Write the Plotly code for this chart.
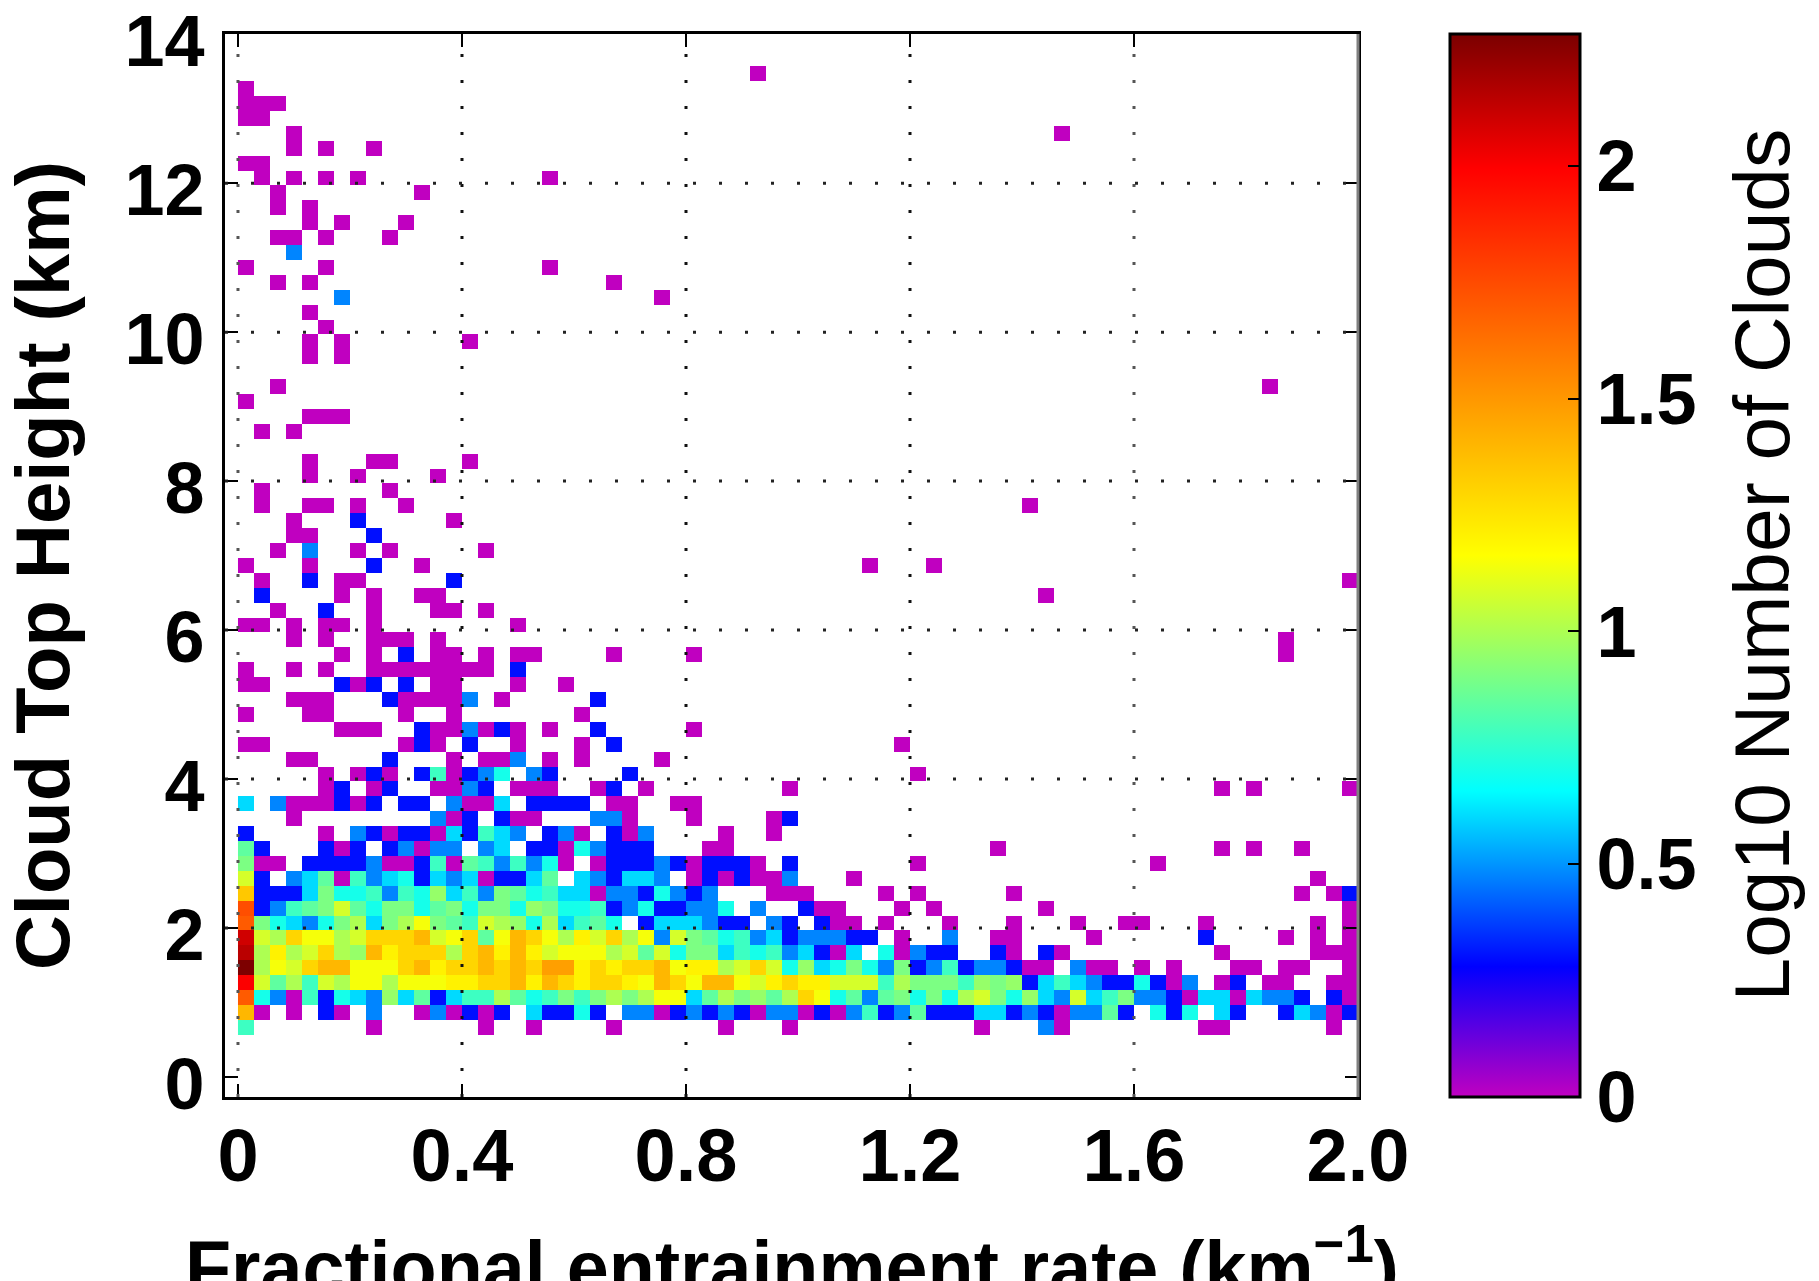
import math
import plotly.graph_objects as go

# counts per 0.2-km height bin: {column index: number of clouds}; r<k> covers the k-th height bin
r3 = {0:6,8:1,15:1,18:1,23:1,30:1,34:1,46:1,50:3,51:1,60:1,61:1,68:1}
r4 = {0:25,1:1,3:1,5:2,6:1,8:3,11:1,12:3,13:1,14:2,15:1,16:2,18:4,19:2,20:2,21:5,22:2,24:3,25:3,26:1,27:2,28:3,29:2,30:3,31:2,32:1,33:3,34:3,35:1,36:2,37:1,38:3,39:6,40:2,41:3,42:7,43:2,44:2,45:2,46:4,47:4,48:2,49:3,50:2,51:1,52:3,53:3,54:7,55:2,57:5,58:2,59:5,61:4,62:2,65:2,66:4,67:3,68:1,69:2}
r5 = {0:50,1:5,2:3,3:1,4:6,5:2,6:5,7:4,8:3,9:9,10:4,11:7,12:2,13:4,14:6,15:6,16:10,17:7,18:5,19:6,20:8,21:6,22:8,23:10,24:8,25:10,26:14,27:14,28:4,29:7,30:10,31:8,32:9,33:7,34:10,35:20,36:14,37:5,38:7,39:3,40:7,41:8,42:5,43:8,44:5,45:10,46:12,47:8,48:5,49:9,50:4,51:3,52:12,53:4,54:6,55:8,56:3,57:3,58:2,59:1,60:4,61:4,62:1,63:4,64:3,65:3,66:2,68:2,69:1}
r6 = {0:100,1:12,2:7,3:10,4:6,5:12,6:10,7:14,8:14,9:10,10:14,11:14,12:14,13:16,14:16,15:20,16:20,17:25,18:16,19:25,20:20,21:16,22:20,23:20,24:16,25:14,26:25,27:20,28:14,29:25,30:25,31:14,32:12,33:16,34:20,35:16,36:16,37:12,38:12,39:12,40:6,41:10,42:8,43:8,44:8,45:6,46:9,47:8,48:9,49:2,50:4,51:6,52:4,53:3,54:2,55:2,56:5,57:2,58:1,59:3,61:1,62:2,64:1,65:1,68:1,69:1}
r7 = {0:190,1:10,2:14,3:12,4:20,5:25,6:25,7:14,8:14,9:14,10:20,11:25,12:16,13:20,14:20,15:25,16:20,17:25,18:20,19:30,20:30,21:16,22:20,23:16,24:20,25:20,26:25,27:14,28:16,29:16,30:10,31:12,32:20,33:12,34:5,35:9,36:4,37:5,38:8,39:5,40:3,41:8,42:2,43:3,44:6,45:2,46:3,47:3,48:2,49:1,50:1,52:3,53:1,54:1,56:1,58:1,62:1,63:1,65:1,66:1,69:1}
r8 = {0:140,1:10,2:16,3:10,4:12,5:20,6:10,7:9,8:25,9:16,10:20,11:20,12:20,13:10,14:20,15:25,16:16,17:25,18:16,19:12,20:14,21:14,22:14,23:10,24:12,25:7,26:12,27:5,28:8,29:8,30:4,31:6,32:5,33:6,34:3,35:4,36:2,37:1,38:4,40:5,41:1,42:3,43:2,44:2,47:2,48:1,50:2,51:1,61:1,67:1,68:1,69:1}
r9 = {0:125,1:12,2:10,3:20,4:14,5:14,6:10,7:12,8:20,9:20,10:20,11:25,12:12,13:14,14:20,15:7,16:14,17:25,18:20,19:14,20:10,21:16,22:12,23:20,24:10,25:14,26:3,27:12,28:8,29:7,30:5,31:6,32:3,33:4,34:2,35:3,36:3,37:3,38:2,39:2,41:1,44:3,47:1,48:1,53:1,60:2,65:1,67:1,69:1}
r10 = {0:50,1:8,2:5,3:4,4:3,5:5,6:8,7:10,8:4,9:8,10:10,11:14,12:8,13:7,14:6,15:12,16:10,17:9,18:5,19:10,20:4,21:6,22:7,23:5,25:2,26:4,27:4,28:4,29:3,30:2,31:2,33:3,34:2,36:2,37:1,38:1,40:1,44:1,48:1,52:1,55:1,56:1,60:1,67:1,69:1}
r11 = {0:55,1:2,2:3,3:6,4:7,5:8,6:12,7:7,8:5,9:8,10:8,11:5,12:7,13:8,14:5,15:8,16:8,17:5,18:9,19:8,20:5,21:5,22:6,23:2,24:3,25:5,26:2,27:2,28:3,29:3,30:5,32:3,35:2,36:1,37:1,41:1,43:1,50:1,69:1}
r12 = {0:22,1:2,2:2,3:2,4:4,5:8,6:5,7:5,8:6,9:3,10:6,11:5,12:9,13:4,14:6,15:3,16:8,17:7,18:5,19:6,20:4,21:4,22:1,23:3,24:3,25:2,26:5,27:3,28:2,29:3,33:1,34:1,35:1,40:1,42:1,48:1,66:1,68:1,69:2}
r13 = {0:12,1:2,3:3,4:4,5:7,6:1,7:6,8:3,9:4,10:5,11:2,12:4,13:3,14:4,15:1,16:2,17:2,18:4,19:7,21:4,22:3,23:2,24:4,25:4,26:3,28:1,29:2,30:1,31:2,32:1,33:1,34:3,38:1,67:1}
r14 = {0:8,1:1,2:1,4:2,5:2,6:2,7:2,8:3,9:1,10:1,11:2,12:6,13:1,14:7,15:6,16:3,17:6,18:3,19:5,20:1,22:1,23:2,24:2,25:2,26:3,27:2,28:1,29:2,30:2,31:2,32:1,34:2,42:1,57:1}
r15 = {0:7,1:2,5:2,6:1,7:2,9:2,10:3,11:1,12:3,13:3,15:3,16:4,18:2,19:2,20:1,21:5,22:3,23:2,24:2,25:2,29:1,30:1,47:1,61:1,63:1,66:1}
r16 = {0:2,5:1,7:3,8:2,9:1,10:2,11:2,12:1,13:4,14:2,15:6,16:4,17:3,19:2,20:3,21:1,23:2,24:1,25:3,30:1,33:1}
r17 = {3:1,12:3,13:1,14:2,16:2,17:1,18:1,22:3,23:3,24:1,28:1,33:1,34:2}
r18 = {0:4,2:3,3:1,4:1,5:1,6:2,7:1,8:2,10:2,11:2,13:3,14:1,15:1,16:4,18:2,19:2,20:2,21:2,23:1,24:1,27:1,28:1}
r19 = {5:1,6:2,8:1,9:2,12:1,13:1,14:3,15:2,17:1,18:1,19:1,22:1,23:2,25:1,34:1,61:1,63:1,69:1}
r20 = {5:1,7:1,8:2,9:1,11:2,12:6,13:1,14:2,15:3,16:5,18:3,19:2,24:2,42:1}
r21 = {3:1,4:1,9:2,13:1,15:1,16:1,17:3,19:1,21:1,26:1}
r22 = {0:1,1:1,10:1,11:2,12:1,14:2,17:1,21:1,23:2,41:1}
r23 = {6:1,7:1,8:1,11:2,12:1,13:1,14:3,15:1,16:2,17:1,19:1,22:2,28:1}
r24 = {0:1,4:1,5:1,10:1,13:1,21:1}
r25 = {3:1,4:1,5:1,9:2,10:1,11:1,12:1,13:1,14:3,16:1,22:2}
r26 = {0:1,1:1,6:2,7:1,8:2,10:2,12:1,13:1,17:1,20:1}
r27 = {0:1,3:1,5:1,8:1,9:1,10:1,11:1,12:1,13:1,14:1,15:1,17:2}
r28 = {6:1,8:1,10:2,12:1,13:1,15:1,17:1,18:1,23:1,28:1,65:1}
r29 = {3:1,5:1,8:1,9:1,10:1,12:1,65:1}
r30 = {0:1,1:1,3:1,5:1,6:1,8:1,17:1}
r31 = {2:1,5:2,8:1,12:1,13:1,15:1}
r32 = {1:2,6:1,8:1,11:1,12:1,50:1}
r33 = {1:1,4:2,6:1,7:1,13:2,69:1}
r34 = {0:1,4:1,8:2,11:1,39:1,43:1}
r35 = {2:1,4:3,7:1,9:1,15:1}
r36 = {3:1,4:1,8:2}
r37 = {3:1,7:2,13:1}
r38 = {1:1,4:1,5:1,7:1,10:1,49:1}
r39 = {1:1,9:1}
r40 = {4:1,7:1,12:1}
r41 = {4:1,8:1,9:1,14:1}
r43 = {1:1,3:1}
r44 = {4:1,5:1,6:1}
r45 = {0:1}
r46 = {2:1,64:1}
r48 = {4:1,6:1}
r49 = {4:1,6:1,14:1}
r50 = {5:1}
r51 = {4:1}
r52 = {6:3,26:1}
r53 = {2:1,4:1,23:1}
r54 = {0:1,5:1,19:1}
r55 = {3:3}
r56 = {2:1,3:1,5:1,9:1}
r57 = {4:1,6:1,10:1}
r58 = {2:1,4:1}
r59 = {2:1,11:1}
r60 = {1:1,3:1,5:1,7:1,19:1}
r61 = {0:1,1:1}
r62 = {3:1,5:1,8:1}
r63 = {3:1,51:1}
r64 = {0:1,1:1}
r65 = {0:1,1:1,2:1}
r66 = {0:1}
r67 = {32:1}

x_ticks = [0, 0.4, 0.8, 1.2, 1.6, 2.0]
x_labels = ["0", "0.4", "0.8", "1.2", "1.6", "2.0"]
y_ticks = [0, 2, 4, 6, 8, 10, 12, 14]
cb_ticks = [0, 0.5, 1, 1.5, 2]
cb_labels = ["0", "0.5", "1", "1.5", "2"]
Z_MAX = 2.283
N_COLS, N_ROWS = 70, 70
DX, DY, Y_SHIFT = 2.0 / 70, 0.2, -0.03

rows = {k: v for k, v in globals().items() if k[0] == "r" and k[1:].isdigit()}
z = [[None] * N_COLS for _ in range(N_ROWS)]
for name, row in rows.items():
    for col, n in row.items():
        z[int(name[1:])][col] = math.log10(n)
x_centers = [(i + 0.5) * DX for i in range(N_COLS)]
y_centers = [(j + 0.5) * DY + Y_SHIFT for j in range(N_ROWS)]

colorscale = [
    [0.0, "#c000c0"],
    [0.28 / Z_MAX, "#0000ff"],
    [0.657 / Z_MAX, "#00ffff"],
    [1.163 / Z_MAX, "#ffff00"],
    [1.994 / Z_MAX, "#ff0000"],
    [1.0, "#7b0000"],
]

FONT = "Liberation Sans"
XR = [-0.0232, 2.0]
YR = [-0.27, 14.003]

fig = go.Figure(go.Heatmap(
    x=x_centers, y=y_centers, z=z, zmin=0, zmax=Z_MAX, colorscale=colorscale,
    hoverongaps=False, xgap=0, ygap=0,
    colorbar=dict(
        x=(1450 - 225) / 1133, xanchor="left", xpad=0, y=0, yanchor="bottom", ypad=0,
        len=1, lenmode="fraction", thickness=130, thicknessmode="pixels",
        outlinecolor="black", outlinewidth=3,
        tickmode="array", tickvals=cb_ticks, ticktext=cb_labels,
        ticks="inside", ticklen=13, tickwidth=2, tickcolor="black",
        tickfont=dict(family=FONT, size=72, weight=700, color="black"),
    ),
))

shapes = []
for xv in x_ticks:
    if 0 <= xv < XR[1]:
        shapes.append(dict(type="line", xref="x", yref="y", x0=xv, x1=xv, y0=YR[0], y1=YR[1],
                           line=dict(color="#555555" if xv in (0, 1.6) else "#111111", width=3, dash="3px,23px")))
for yv in y_ticks:
    if 0 < yv < 14:
        shapes.append(dict(type="line", xref="x", yref="y", x0=XR[0], x1=XR[1], y0=yv, y1=yv,
                           line=dict(color="#222222", width=3, dash="3px,23px")))
shapes.append(dict(type="line", xref="x domain", yref="y domain", x0=1, x1=1, y0=0, y1=1,
                   line=dict(color="#808080", width=3)))

fig.update_layout(
    width=1819, height=1281, autosize=False,
    margin=dict(l=225, r=461, t=34, b=184, pad=0),
    paper_bgcolor="white", plot_bgcolor="white",
    font=dict(family=FONT, color="black"),
    shapes=shapes,
    annotations=[
        dict(text="Log10 Number of Clouds", textangle=-90, showarrow=False,
             xref="paper", yref="paper", x=(1761 - 225) / 1133, y=0.5,
             xanchor="center", yanchor="middle",
             font=dict(family=FONT, size=78.5, color="black")),
        dict(text="Fractional entrainment rate (km<sup>−1</sup>)", showarrow=False,
             xref="paper", yref="paper", x=0.5, y=(1097 - 1212) / 1063,
             xanchor="center", yanchor="top",
             font=dict(family=FONT, size=75.5, weight=700, color="black")),
    ],
    xaxis=dict(
        range=XR, tickmode="array", tickvals=x_ticks, ticktext=x_labels,
        ticks="inside", ticklen=13, tickwidth=2, tickcolor="black",
        showline=True, linecolor="black", linewidth=3, mirror="ticks",
        showgrid=False, zeroline=False, automargin=False, ticklabelstandoff=-8,
        tickfont=dict(family=FONT, size=74, weight=700, color="black"),
    ),
    yaxis=dict(
        range=YR, tickmode="array", tickvals=y_ticks,
        ticks="inside", ticklen=13, tickwidth=2, tickcolor="black",
        showline=True, linecolor="black", linewidth=3, mirror="ticks",
        showgrid=False, zeroline=False, automargin=False, ticklabelstandoff=3, ticklabelshift=7,
        tickfont=dict(family=FONT, size=72, weight=700, color="black"),
        title=dict(text="Cloud Top Height (km)", standoff=35,
                   font=dict(family=FONT, size=76, weight=700, color="black")),
    ),
)

fig.write_html("out.html", config={"displayModeBar": False},
               post_script="document.body.style.margin='0';document.body.style.overflow='hidden';")
